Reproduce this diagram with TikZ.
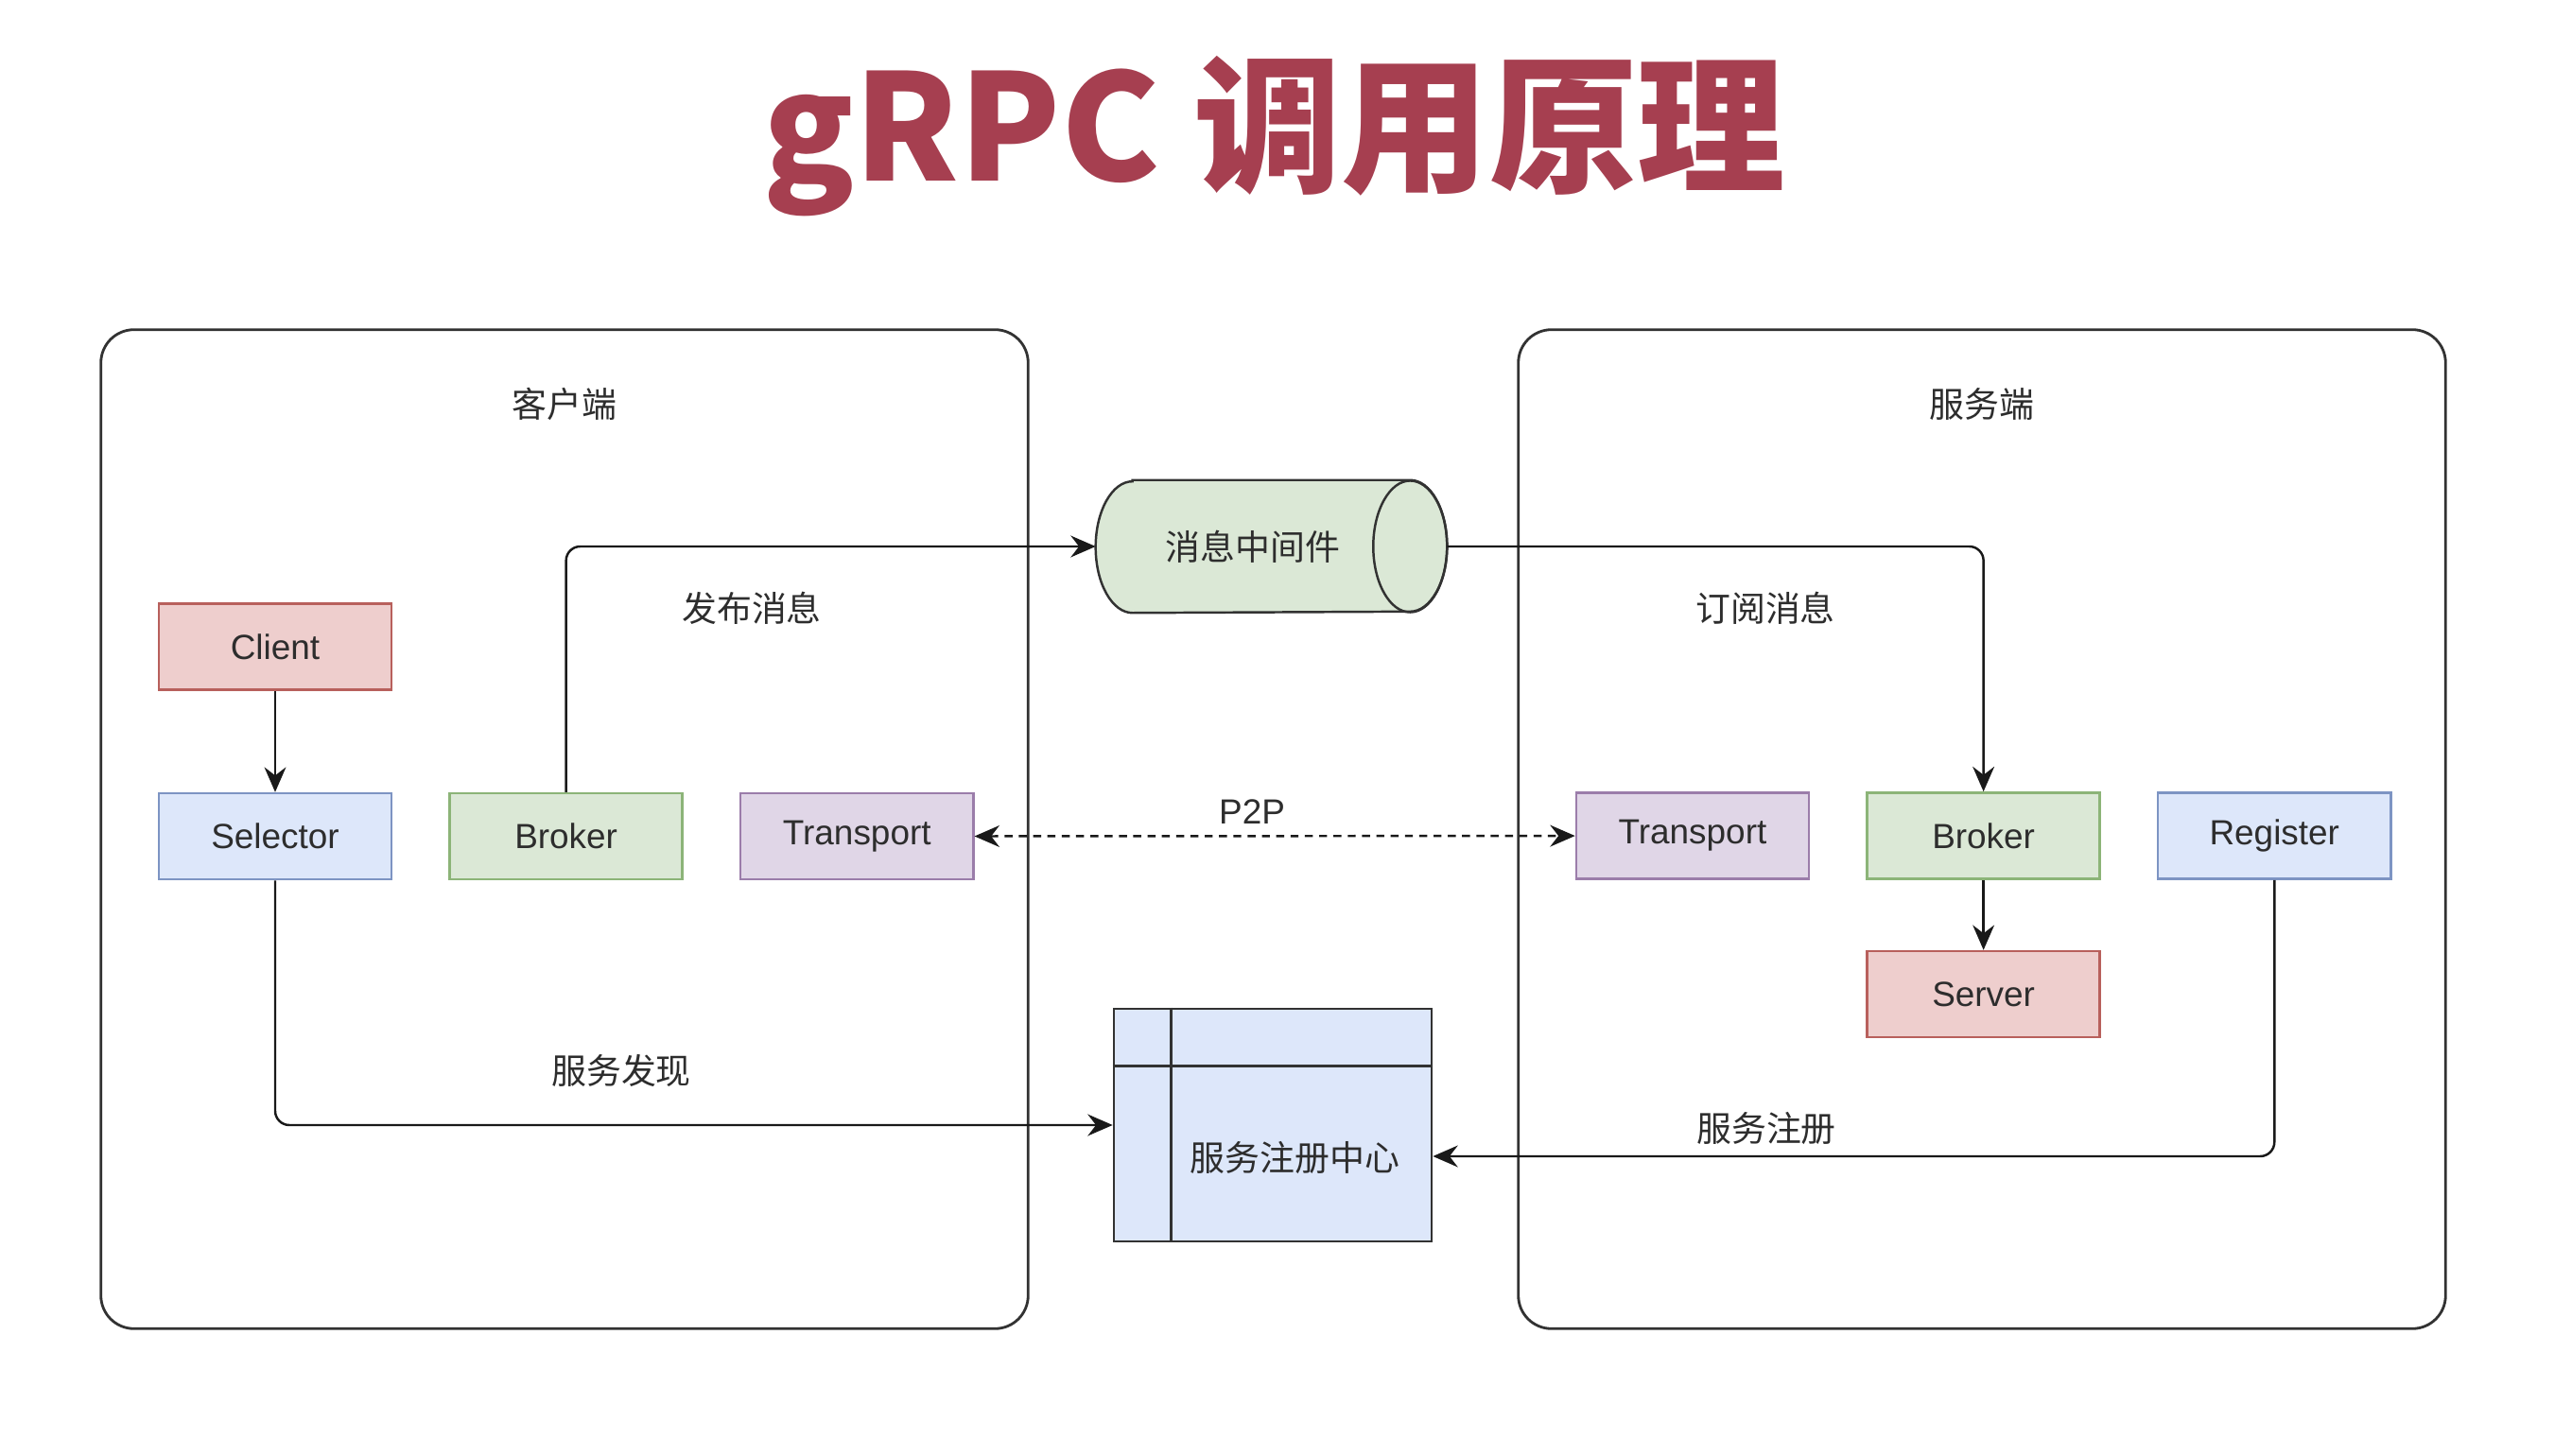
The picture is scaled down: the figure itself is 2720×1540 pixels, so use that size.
\documentclass[tikz,border=0pt]{standalone}
\usepackage{fontspec}
\setmainfont{Liberation Sans}
\newfontfamily\cjk{Noto Sans CJK SC}
\usetikzlibrary{arrows.meta, positioning, calc, backgrounds}
\definecolor{titlered}{RGB}{166, 63, 80}
\definecolor{textgray}{RGB}{45, 45, 45}
\definecolor{linegray}{RGB}{25, 25, 25}
\definecolor{framegray}{RGB}{50, 50, 50}
\definecolor{redfill}{RGB}{238, 206, 205}
\definecolor{redline}{RGB}{184, 96, 92}
\definecolor{bluefill}{RGB}{221, 231, 250}
\definecolor{blueline}{RGB}{125, 148, 195}
\definecolor{greenfill}{RGB}{219, 232, 214}
\definecolor{greenline}{RGB}{140, 180, 120}
\definecolor{purplefill}{RGB}{224, 214, 231}
\definecolor{purpleline}{RGB}{155, 125, 170}

\begin{document}
\begin{tikzpicture}[
        x=0.01cm, y=-0.01cm,
        node distance=1.07cm and 0.59cm,
        txt/.style={font=\fontsize{10.5}{12}\selectfont, text=textgray},
        cjktxt/.style={font=\cjk\fontsize{10.5}{12}\selectfont, text=textgray},
        box/.style={rectangle, txt, line width=0.7pt, minimum width=2.46cm, minimum height=0.91cm},
        redbox/.style={box, draw=redline, fill=redfill},
        bluebox/.style={box, draw=blueline, fill=bluefill},
        greenbox/.style={box, draw=greenline, fill=greenfill},
        purplebox/.style={box, draw=purpleline, fill=purplefill},
        group/.style={rectangle, draw=framegray, line width=0.8pt, rounded corners=0.35cm, minimum width=9.8cm, minimum height=10.56cm},
        mqbody/.style={draw=framegray, line width=0.7pt},
        arrow/.style={-{Stealth[length=7.5pt, width=6.5pt, inset=2.5pt]}, line width=0.7pt, draw=linegray, rounded corners=0.15cm},
        p2p/.style={{Stealth[length=7.5pt, width=6.5pt, inset=2.5pt]}-{Stealth[length=7.5pt, width=6.5pt, inset=2.5pt]}, line width=0.7pt, draw=linegray, dash pattern=on 2.4pt off 1.9pt}
    ]
        \useasboundingbox (0,0) rectangle (2720,1540);

        % Title
        \node[font=\cjk\bfseries\fontsize{44.5}{50}\selectfont, text=titlered, anchor=base] (title) at (1348,192) {gRPC 调用原理};

        % Groups
        \node[group] (cside) at (597,877) {};
        \node[group] (sside) at (2096,877) {};
        \node[cjktxt] (ctitle) at ($(cside.north)+(0,80)$) {客户端};
        \node[cjktxt] (stitle) at ($(sside.north)+(0,80)$) {服务端};

        % Client side
        \node[redbox] (client) at (291,684) {Client};
        \node[bluebox, below=of client] (selector) {Selector};
        \node[greenbox, right=of selector] (brokerL) {Broker};
        \node[purplebox, right=of brokerL] (transL) {Transport};

        % Server side
        \node[purplebox] (transR) at (1790,884) {Transport};
        \node[greenbox, right=of transR] (brokerR) {Broker};
        \node[bluebox, right=of brokerR] (register) {Register};
        \node[redbox, below=0.74cm of brokerR] (server) {Server};

        % Middle
        \node[cjktxt, minimum width=3.31cm, minimum height=1.39cm] (mq) at (1325,578) {消息中间件};
        \begin{scope}[on background layer]
            \draw[mqbody, fill=greenfill] ($(mq.north west)+(39,0)$) -- (mq.north east)
                arc[start angle=90, end angle=-90, x radius=0.39cm, y radius=0.695cm]
                -- ($(mq.south west)+(39,0)$)
                arc[start angle=270, end angle=90, x radius=0.39cm, y radius=0.695cm] -- cycle;
            \draw[mqbody] (mq.east) ellipse [x radius=0.39cm, y radius=0.695cm];
        \end{scope}
        \node[rectangle, draw=framegray, line width=0.7pt, fill=bluefill, minimum width=3.36cm, minimum height=2.46cm] (reg) at (1346,1190) {};
        \draw[framegray, line width=0.7pt] ($(reg.north west)+(62,0)$) -- ($(reg.south west)+(62,0)$);
        \draw[framegray, line width=0.7pt] ($(reg.north west)+(0,62)$) -- ($(reg.north east)+(0,62)$);
        \node[cjktxt] (regname) at ($(reg.south east)+(-146,-90)$) {服务注册中心};

        % Labels
        \node[cjktxt] (pubtxt) at (795,643) {发布消息};
        \node[cjktxt] (subtxt) at (1867,643) {订阅消息};
        \node[cjktxt] (findtxt) at (657,1132) {服务发现};
        \node[cjktxt] (regtxt) at (1868,1194) {服务注册};

        % Connections
        \draw[arrow] (client) -- (selector);
        \draw[arrow] (brokerL.north) |- (mq.west);
        \draw[arrow] ($(mq.east)+(39,0)$) -| (brokerR.north);
        \draw[arrow] (brokerR) -- (server);
        \draw[arrow] (selector.south) |- (reg.west);
        \draw[arrow] (register.south) |- ($(reg.east)+(0,33)$);
        \draw[p2p] (transL) -- node[txt, above, xshift=-0.24cm] {P2P} (transR);
    \end{tikzpicture}
\end{document}
